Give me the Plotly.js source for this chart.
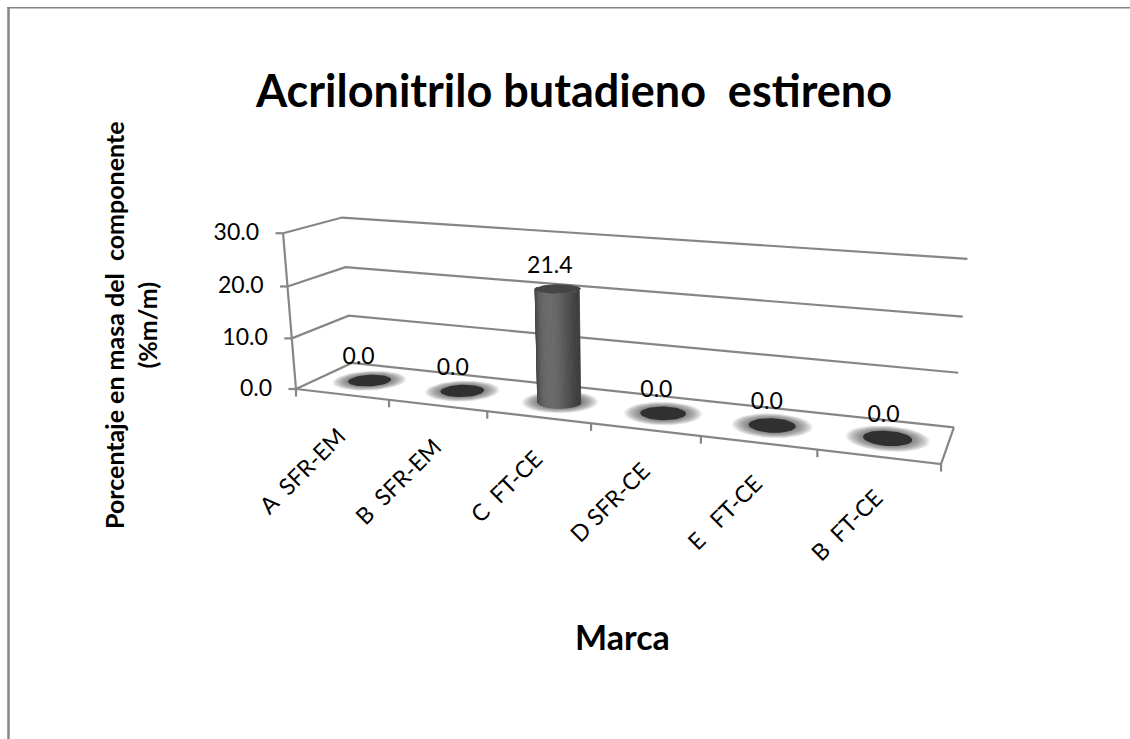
<!DOCTYPE html>
<html>
<head>
<meta charset="utf-8">
<script src="https://cdn.plot.ly/plotly-3.0.1.min.js"></script>
<style>html,body{margin:0;padding:0;background:#fff}#chart{width:1130px;height:739px}</style>
</head>
<body>
<div id="chart"></div>
<script>
// Brand samples and their measured mass percentage
const categories = ['A\u00a0\u00a0SFR-EM', 'B\u00a0\u00a0SFR-EM', 'C\u00a0\u00a0FT-CE', 'D\u00a0SFR-CE', 'E\u00a0\u00a0\u00a0FT-CE', 'B\u00a0\u00a0FT-CE'];
const values = [0.0, 0.0, 21.4, 0.0, 0.0, 0.0];
const valueTicks = [0, 10, 20, 30];
const valueMax = 30;

const FONT = 'Lato, "Open Sans", sans-serif';
const GRID = '#868686';

// Perspective projection of the chart box onto the page:
// u = 0..1 along categories, d = 0..1 into the depth, v = 0..1 up the value axis
function project(u, d, v) {
  const w = 1 - 0.157 * u + 0.075 * d - 0.037 * v;
  return [
    (296 + 497.3 * u + 82.4 * d - 23.4 * v) / w,
    (389 + 2.2 * u + 1.2 * d - 164.4 * v) / w
  ];
}
const slotU = i => (i + 0.5) / categories.length;
const valueV = val => val / valueMax;

const traces = [];
function addLine(points, width, color) {
  traces.push({
    x: points.map(p => p[0]), y: points.map(p => p[1]),
    mode: 'lines', line: {color: color || GRID, width: width || 2.2},
    hoverinfo: 'skip', showlegend: false
  });
}

// Disc lying on a horizontal plane at height v; radius is in units of one category slot
const R = 0.205;
function discPoint(i, theta, scale, v) {
  const n = categories.length;
  return project(slotU(i) + R * scale * Math.cos(theta) / n, 0.5 + R * scale * Math.sin(theta), v);
}
function disc(i, scale, v) {
  const pts = [];
  for (let k = 0; k <= 48; k++) pts.push(discPoint(i, 2 * Math.PI * k / 48, scale, v));
  return pts;
}
function addFilled(points, color, lineColor) {
  traces.push({
    x: points.map(p => p ? p[0] : null), y: points.map(p => p ? p[1] : null),
    mode: 'lines', fill: 'toself', fillcolor: color,
    line: {color: lineColor || 'rgba(0,0,0,0)', width: lineColor ? 0.8 : 0},
    hoverinfo: 'skip', showlegend: false
  });
}

// Walls: value gridlines along the back and down the left side
valueTicks.forEach(t => {
  const v = valueV(t);
  addLine([project(0, 0, v), project(0, 1, v), project(1, 1, v)]);
  const p = project(0, 0, v);
  addLine([p, [p[0] - 7.5, p[1]]]);
});
// Value axis and floor outline
addLine([project(0, 0, 0), project(0, 0, 1)]);
addLine([project(0, 0, 0), project(1, 0, 0), project(1, 1, 0)]);
// Category ticks below the front edge
for (let i = 0; i <= categories.length; i++) {
  const p = project(i / categories.length, 0, 0);
  addLine([p, [p[0], p[1] + 7.5]]);
}

// Soft floor shadow: stacked translucent discs per column
const GLOW_LAYERS = 14;
for (let g = 0; g < GLOW_LAYERS; g++) {
  const scale = 1.72 - 0.72 * g / (GLOW_LAYERS - 1);
  const pts = [];
  values.forEach((_, i) => { pts.push(...disc(i, scale, 0), null); });
  addFilled(pts, 'rgba(70,70,70,0.07)');
}

// Columns: curved side as shaded strips, then the cap
values.forEach((val, i) => {
  const v = valueV(val);
  if (val > 0) {
    const STRIPS = 30;
    for (let s = 0; s < STRIPS; s++) {
      const a = Math.PI + Math.PI * s / STRIPS;
      const b = Math.PI + Math.PI * (s + 1) / STRIPS;
      const x = Math.cos((a + b) / 2);
      const gray = Math.round(60 + 46 * Math.pow(1 - x * x, 1.1));
      const c = `rgb(${gray},${gray},${gray})`;
      addFilled([discPoint(i, a, 1, 0), discPoint(i, b, 1, 0), discPoint(i, b, 1, v), discPoint(i, a, 1, v), discPoint(i, a, 1, 0)], c, c);
    }
  }
  addFilled(disc(i, 1, v), val > 0 ? '#454545' : '#303030');
});

// Value labels above each column
const topPoints = values.map((val, i) => discPoint(i, 0, 0, valueV(val)));
traces.push({
  x: topPoints.map((p, i) => p[0] - 11 + 1.4 * i),
  y: topPoints.map(p => p[1] - 22),
  text: values.map(val => val.toFixed(1)),
  mode: 'text', textposition: 'middle center',
  textfont: {family: FONT, size: 23, color: '#000'},
  hoverinfo: 'skip', showlegend: false
});

// Value-axis tick labels, following the slant of the axis
traces.push({
  x: valueTicks.map(t => project(0, 0, valueV(t))[0] - 24),
  y: valueTicks.map(t => project(0, 0, valueV(t))[1] + 1),
  text: valueTicks.map(t => t.toFixed(1)),
  mode: 'text', textposition: 'middle left',
  textfont: {family: FONT, size: 23, color: '#000'},
  hoverinfo: 'skip', showlegend: false
});

// Slanted category labels, upper end next to the slot centre
const annotations = categories.map((c, i) => {
  const p = project(slotU(i), 0, 0);
  return {
    x: p[0] + 12, y: p[1] + 24, xref: 'x', yref: 'y',
    text: c, showarrow: false, textangle: -45,
    xanchor: 'right', yanchor: 'top',
    font: {family: FONT, size: 23, color: '#000'}
  };
});
annotations.push({
  x: 130, y: 325, xref: 'x', yref: 'y', showarrow: false, textangle: -90,
  text: '<b>Porcentaje en masa del\u00a0\u00a0componente<br>(%m/m)</b>',
  xanchor: 'center', yanchor: 'middle',
  font: {family: FONT, size: 25, color: '#000'}
});
annotations.push({
  x: 622, y: 636, xref: 'x', yref: 'y', showarrow: false,
  text: '<b>Marca</b>', xanchor: 'center', yanchor: 'middle',
  font: {family: FONT, size: 34, color: '#000'}
});

const layout = {
  width: 1130, height: 739,
  margin: {l: 0, r: 0, t: 0, b: 0},
  paper_bgcolor: '#fff', plot_bgcolor: '#fff',
  showlegend: false,
  title: {
    text: '<b>Acrilonitrilo butadieno\u00a0\u00a0estireno</b>',
    x: 574 / 1130, y: 1 - 91 / 739, xanchor: 'center', yanchor: 'middle',
    font: {family: FONT, size: 45, color: '#000'}
  },
  xaxis: {range: [0, 1130], visible: false, fixedrange: true},
  yaxis: {range: [739, 0], visible: false, fixedrange: true},
  annotations: annotations,
  // Outer chart frame, open on the right and at the bottom
  shapes: [
    {type: 'line', xref: 'x', yref: 'y', x0: 8.5, y0: 7, x1: 8.5, y1: 739, line: {color: GRID, width: 2.5}},
    {type: 'line', xref: 'x', yref: 'y', x0: 7, y0: 7.8, x1: 1130, y1: 7.8, line: {color: GRID, width: 1.5}}
  ]
};

Plotly.newPlot('chart', traces, layout, {displayModeBar: false, staticPlot: true});
</script>
</body>
</html>
